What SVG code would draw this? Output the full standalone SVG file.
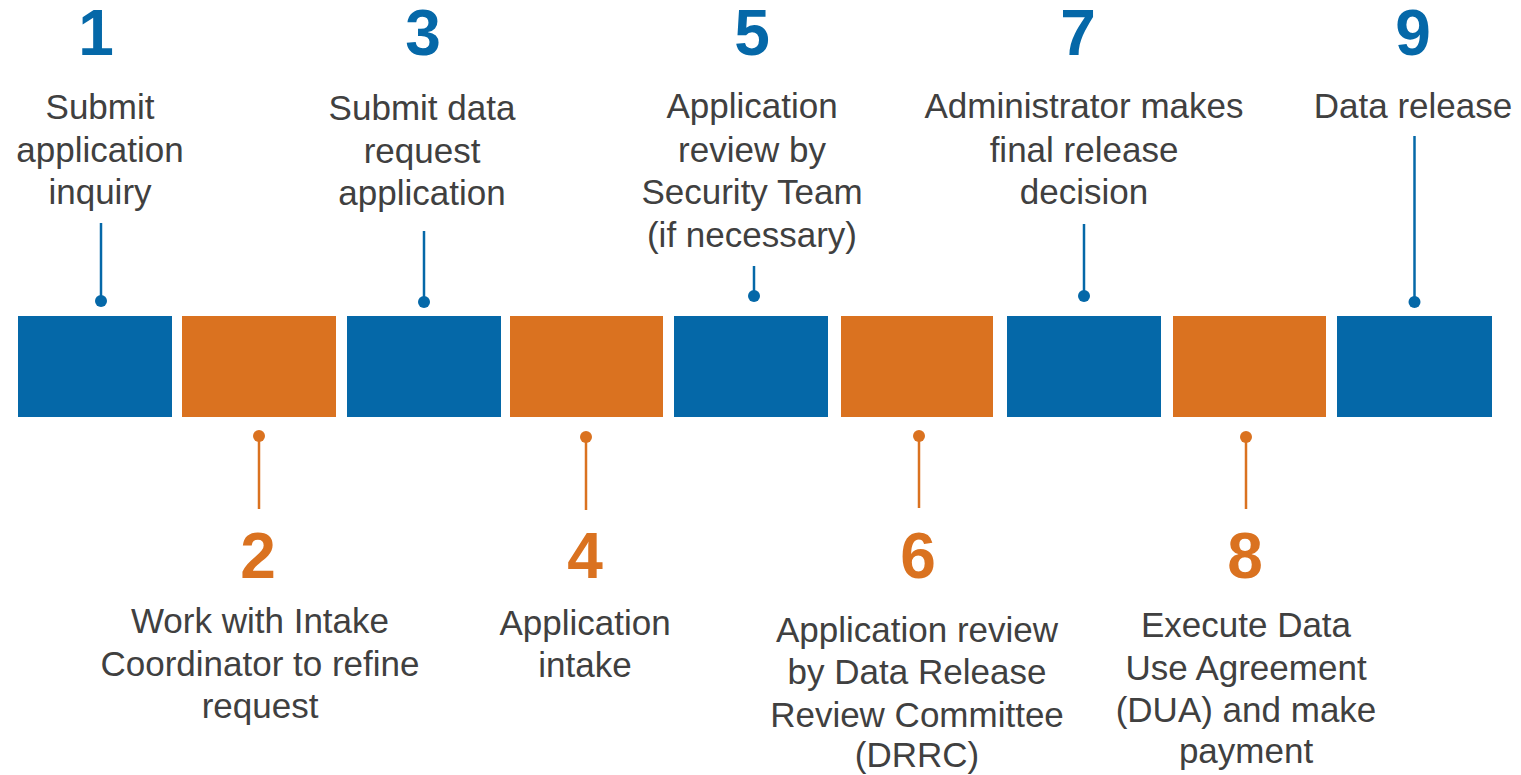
<svg xmlns="http://www.w3.org/2000/svg" width="1521" height="775" viewBox="0 0 1521 775">
<style>
.b{fill:#0568a8}
.o{fill:#da7220}
.num{font-family:"Liberation Sans",Arial,sans-serif;font-weight:bold;font-size:64px;text-anchor:middle}
.nb{fill:#0568a8}
.no{fill:#da7220}
.lbl{font-family:"Liberation Sans",Arial,sans-serif;font-size:35px;fill:#404040;text-anchor:middle}
.cb{stroke:#0568a8;stroke-width:2.5;fill:none}
.co{stroke:#da7220;stroke-width:2.5;fill:none}
</style>
<rect width="1521" height="775" fill="#ffffff"/>
<g id="connectors">
<line class="cb" x1="101" y1="223" x2="101" y2="301"/><circle class="b" cx="101" cy="301" r="6"/>
<line class="cb" x1="424" y1="231" x2="424" y2="302"/><circle class="b" cx="424" cy="302" r="6"/>
<line class="cb" x1="754" y1="266" x2="754" y2="296"/><circle class="b" cx="754" cy="296" r="6"/>
<line class="cb" x1="1084" y1="224" x2="1084" y2="296"/><circle class="b" cx="1084" cy="296" r="6"/>
<line class="cb" x1="1414.5" y1="136" x2="1414.5" y2="302"/><circle class="b" cx="1414.5" cy="302" r="6"/>
<line class="co" x1="259" y1="436" x2="259" y2="509"/><circle class="o" cx="259" cy="436" r="6"/>
<line class="co" x1="586" y1="437" x2="586" y2="510"/><circle class="o" cx="586" cy="437" r="6"/>
<line class="co" x1="919" y1="436" x2="919" y2="508"/><circle class="o" cx="919" cy="436" r="6"/>
<line class="co" x1="1246" y1="437" x2="1246" y2="509"/><circle class="o" cx="1246" cy="437" r="6"/>
</g>
<g id="step1">
<rect class="b" x="18" y="316" width="154" height="101"/>
<text class="num nb" x="96" y="55">1</text>
<text class="lbl" x="100"><tspan x="100" y="119">Submit</tspan><tspan x="100" y="162">application</tspan><tspan x="100" y="204">inquiry</tspan></text>
</g>
<g id="step2">
<rect class="o" x="182" y="316" width="154" height="101"/>
<text class="num no" x="258" y="578">2</text>
<text class="lbl"><tspan x="260" y="633">Work with Intake</tspan><tspan x="260" y="676">Coordinator to refine</tspan><tspan x="260" y="718">request</tspan></text>
</g>
<g id="step3">
<rect class="b" x="347" y="316" width="154" height="101"/>
<text class="num nb" x="423" y="55">3</text>
<text class="lbl"><tspan x="422" y="120">Submit data</tspan><tspan x="422" y="163">request</tspan><tspan x="422" y="205">application</tspan></text>
</g>
<g id="step4">
<rect class="o" x="510" y="316" width="153" height="101"/>
<text class="num no" x="585" y="578">4</text>
<text class="lbl"><tspan x="585" y="635">Application</tspan><tspan x="585" y="677">intake</tspan></text>
</g>
<g id="step5">
<rect class="b" x="674" y="316" width="154" height="101"/>
<text class="num nb" x="752" y="55">5</text>
<text class="lbl"><tspan x="752" y="118">Application</tspan><tspan x="752" y="162">review by</tspan><tspan x="752" y="204">Security Team</tspan><tspan x="752" y="247">(if necessary)</tspan></text>
</g>
<g id="step6">
<rect class="o" x="841" y="316" width="152" height="101"/>
<text class="num no" x="918" y="578">6</text>
<text class="lbl"><tspan x="917" y="642">Application review</tspan><tspan x="917" y="684">by Data Release</tspan><tspan x="917" y="727">Review Committee</tspan><tspan x="917" y="767">(DRRC)</tspan></text>
</g>
<g id="step7">
<rect class="b" x="1007" y="316" width="154" height="101"/>
<text class="num nb" x="1078" y="55">7</text>
<text class="lbl"><tspan x="1084" y="118">Administrator makes</tspan><tspan x="1084" y="162">final release</tspan><tspan x="1084" y="204">decision</tspan></text>
</g>
<g id="step8">
<rect class="o" x="1173" y="316" width="153" height="101"/>
<text class="num no" x="1245" y="578">8</text>
<text class="lbl"><tspan x="1246" y="637">Execute Data</tspan><tspan x="1246" y="680">Use Agreement</tspan><tspan x="1246" y="722">(DUA) and make</tspan><tspan x="1246" y="763">payment</tspan></text>
</g>
<g id="step9">
<rect class="b" x="1337" y="316" width="155" height="101"/>
<text class="num nb" x="1413" y="55">9</text>
<text class="lbl"><tspan x="1413" y="118">Data release</tspan></text>
</g>
</svg>
